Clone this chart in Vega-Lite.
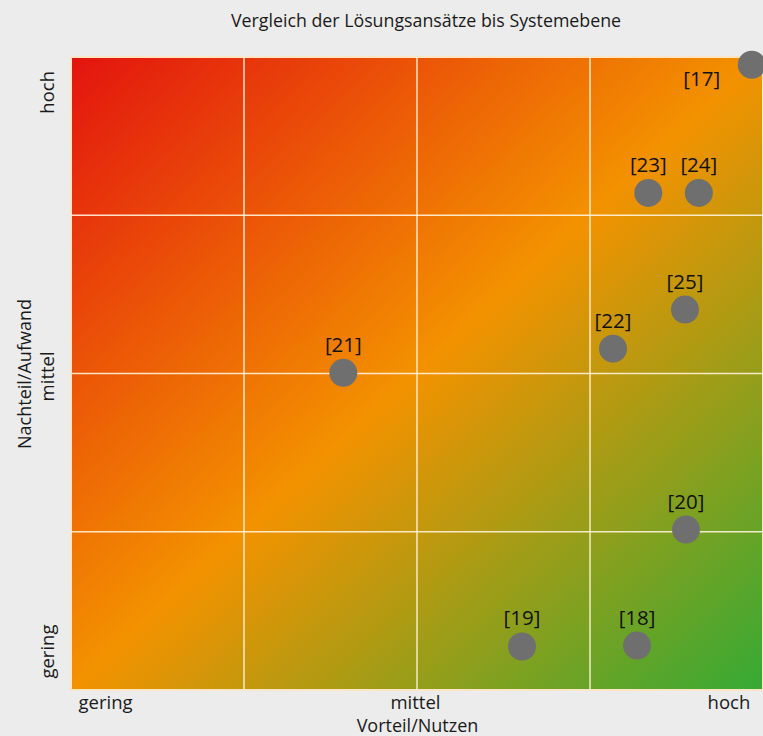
{
  "$schema": "https://vega.github.io/schema/vega-lite/v6.json",
  "width": 692,
  "height": 633,
  "autosize": "none",
  "padding": {"left": 71, "top": 57, "right": 0, "bottom": 46},
  "background": "#ececec",
  "config": {
    "view": {"stroke": null},
    "font": "Open Sans",
    "axis": {"domain": false, "ticks": false, "grid": false, "labelColor": "#1a1a1a", "titleColor": "#1a1a1a", "labelFont": "Open Sans", "titleFont": "Open Sans", "labelFontSize": 18.5, "titleFontSize": 18, "titleFontWeight": "normal"},
    "axisX": {"labelPadding": 3, "titlePadding": 6}
  },
  "title": {"text": "Vergleich der Lösungsansätze bis Systemebene", "font": "Open Sans", "fontSize": 17.8, "fontWeight": "normal", "color": "#1a1a1a", "offset": 20, "dx": 9},
  "datasets": {
    "points": [
      {"label": "[17]", "nutzen": 3.935, "aufwand": 3.951},
      {"label": "[23]", "nutzen": 3.337, "aufwand": 3.141},
      {"label": "[24]", "nutzen": 3.629, "aufwand": 3.141},
      {"label": "[25]", "nutzen": 3.549, "aufwand": 2.404},
      {"label": "[22]", "nutzen": 3.133, "aufwand": 2.157},
      {"label": "[21]", "nutzen": 1.574, "aufwand": 2.004},
      {"label": "[20]", "nutzen": 3.555, "aufwand": 1.014},
      {"label": "[19]", "nutzen": 2.607, "aufwand": 0.275},
      {"label": "[18]", "nutzen": 3.272, "aufwand": 0.281}
    ],
    "grid": [{"v": 1}, {"v": 2}, {"v": 3}]
  },
  "layer": [
    {
      "data": {"values": [{}]},
      "mark": {
        "type": "rect",
        "stroke": "#fde6c6",
        "strokeWidth": 2,
        "fill": {
          "gradient": "linear", "x1": 0, "y1": 0, "x2": 1, "y2": 1,
          "stops": [
            {"offset": 0, "color": "#e3140f"},
            {"offset": 0.5, "color": "#f39200"},
            {"offset": 1, "color": "#35aa35"}
          ]
        }
      },
      "encoding": {
        "x": {"datum": 0, "type": "quantitative", "scale": {"domain": [0, 4], "nice": false, "zero": false},
          "axis": {"title": "Vorteil/Nutzen", "values": [0.197, 1.988, 3.8], "labelExpr": "datum.value < 1 ? 'gering' : datum.value < 3 ? 'mittel' : 'hoch'"}},
        "x2": {"datum": 4},
        "y": {"datum": 0, "type": "quantitative", "scale": {"domain": [0, 4], "nice": false, "zero": false},
          "axis": {"title": "Nachteil/Aufwand", "values": [0.246, 1.985, 3.78], "labelExpr": "datum.value < 1 ? 'gering' : datum.value < 3 ? 'mittel' : 'hoch'", "labelAngle": -90, "labelAlign": "center", "labelPadding": 14}},
        "y2": {"datum": 4}
      }
    },
    {
      "data": {"name": "grid"},
      "mark": {"type": "rule", "color": "#fff3dc", "strokeWidth": 1.5, "opacity": 0.9},
      "encoding": {
        "x": {"field": "v", "type": "quantitative", "scale": {"domain": [0, 4], "nice": false, "zero": false},
          "axis": {"title": "Vorteil/Nutzen", "values": [0.197, 1.988, 3.8], "labelExpr": "datum.value < 1 ? 'gering' : datum.value < 3 ? 'mittel' : 'hoch'"}}
      }
    },
    {
      "data": {"name": "grid"},
      "mark": {"type": "rule", "color": "#fff3dc", "strokeWidth": 1.5, "opacity": 0.9},
      "encoding": {
        "y": {"field": "v", "type": "quantitative", "scale": {"domain": [0, 4], "nice": false, "zero": false},
          "axis": {"title": "Nachteil/Aufwand", "values": [0.246, 1.985, 3.78], "labelExpr": "datum.value < 1 ? 'gering' : datum.value < 3 ? 'mittel' : 'hoch'", "labelAngle": -90, "labelAlign": "center", "labelPadding": 14}}
      }
    },
    {
      "data": {"name": "points"},
      "mark": {"type": "circle", "size": 784, "color": "#6f6f6f", "opacity": 1},
      "encoding": {
        "x": {"field": "nutzen", "type": "quantitative", "scale": {"domain": [0, 4], "nice": false, "zero": false},
          "axis": {"title": "Vorteil/Nutzen", "values": [0.197, 1.988, 3.8], "labelExpr": "datum.value < 1 ? 'gering' : datum.value < 3 ? 'mittel' : 'hoch'"}},
        "y": {"field": "aufwand", "type": "quantitative", "scale": {"domain": [0, 4], "nice": false, "zero": false},
          "axis": {"title": "Nachteil/Aufwand", "values": [0.246, 1.985, 3.78], "labelExpr": "datum.value < 1 ? 'gering' : datum.value < 3 ? 'mittel' : 'hoch'", "labelAngle": -90, "labelAlign": "center", "labelPadding": 14}}
      }
    },
    {
      "data": {"name": "points"},
      "transform": [{"filter": "datum.label != '[17]'"}],
      "mark": {"type": "text", "fontSize": 20.5, "font": "Open Sans", "color": "#111111", "baseline": "middle", "dy": -27},
      "encoding": {
        "x": {"field": "nutzen", "type": "quantitative", "scale": {"domain": [0, 4], "nice": false, "zero": false},
          "axis": {"title": "Vorteil/Nutzen", "values": [0.197, 1.988, 3.8], "labelExpr": "datum.value < 1 ? 'gering' : datum.value < 3 ? 'mittel' : 'hoch'"}},
        "y": {"field": "aufwand", "type": "quantitative", "scale": {"domain": [0, 4], "nice": false, "zero": false},
          "axis": {"title": "Nachteil/Aufwand", "values": [0.246, 1.985, 3.78], "labelExpr": "datum.value < 1 ? 'gering' : datum.value < 3 ? 'mittel' : 'hoch'", "labelAngle": -90, "labelAlign": "center", "labelPadding": 14}},
        "text": {"field": "label"}
      }
    },
    {
      "data": {"name": "points"},
      "transform": [{"filter": "datum.label == '[17]'"}],
      "mark": {"type": "text", "fontSize": 20.5, "font": "Open Sans", "color": "#111111", "baseline": "middle", "dx": -50, "dy": 15},
      "encoding": {
        "x": {"field": "nutzen", "type": "quantitative", "scale": {"domain": [0, 4], "nice": false, "zero": false},
          "axis": {"title": "Vorteil/Nutzen", "values": [0.197, 1.988, 3.8], "labelExpr": "datum.value < 1 ? 'gering' : datum.value < 3 ? 'mittel' : 'hoch'"}},
        "y": {"field": "aufwand", "type": "quantitative", "scale": {"domain": [0, 4], "nice": false, "zero": false},
          "axis": {"title": "Nachteil/Aufwand", "values": [0.246, 1.985, 3.78], "labelExpr": "datum.value < 1 ? 'gering' : datum.value < 3 ? 'mittel' : 'hoch'", "labelAngle": -90, "labelAlign": "center", "labelPadding": 14}},
        "text": {"field": "label"}
      }
    }
  ]
}
